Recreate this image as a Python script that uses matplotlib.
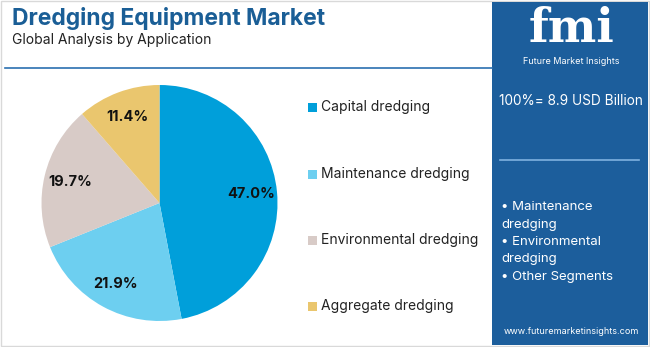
import matplotlib.pyplot as plt
from matplotlib.patches import Rectangle

plt.rcParams['font.family'] = ['Inter', 'DejaVu Sans']

# data
categories = ["Capital dredging", "Maintenance dredging",
              "Environmental dredging", "Aggregate dredging"]
shares = [47.0, 21.9, 19.7, 11.4]
colors = ["#009FDA", "#6DCFF0", "#D8CBC7", "#EAC66E"]
total_text = "100%= 8.9 USD Billion"
panel_items = ["• Maintenance", "dredging", "• Environmental", "dredging", "• Other Segments"]

W, H = 650, 347
fig = plt.figure(figsize=(W / 100, H / 100), dpi=100)
fig.patch.set_facecolor("white")

def fy(y):
    return 1 - y / H

def fx(x):
    return x / W

# outer border
fig.add_artist(Rectangle((0.001, 0.002), 0.997, 0.995, transform=fig.transFigure,
                         fill=False, edgecolor="#d9d9d9", lw=1))

# title block
fig.text(fx(12), fy(18), "Dredging Equipment Market", fontsize=16.5, fontweight="bold",
         color="#1A5E96", va="center", ha="left")
fig.text(fx(12), fy(40), "Global Analysis by Application", fontsize=10,
         color="#222222", va="center", ha="left")
fig.add_artist(plt.Line2D([fx(5), fx(492)], [fy(68), fy(68)], transform=fig.transFigure,
                          color="#2a6fb0", lw=1.2))

# pie
cx, cy, r = 159.5, 203, 118
ax = fig.add_axes([fx(cx - r), fy(cy + r), 2 * r / W, 2 * r / H])
wedges, texts, autotexts = ax.pie(shares, colors=colors, startangle=90, counterclock=False,
                                  autopct="%.1f%%", pctdistance=0.78,
                                  wedgeprops=dict(linewidth=0))
for t in autotexts:
    t.set_fontsize(10.5)
    t.set_fontweight("bold")
    t.set_color("#111111")
ax.set_xlim(-1, 1)
ax.set_ylim(-1, 1)
ax.set_aspect("equal")
ax.axis("off")

# legend
leg_y = [107, 174, 240, 306]
for name, c, y in zip(categories, colors, leg_y):
    fig.add_artist(Rectangle((fx(308), fy(y + 4.5)), 9 / W, 9 / H, transform=fig.transFigure,
                             facecolor=c, edgecolor="none"))
    fig.text(fx(321), fy(y), name, fontsize=10, color="#222222", va="center", ha="left")

# right panel
px0 = 492
fig.add_artist(Rectangle((fx(px0), fy(H - 2)), (W - 2 - px0) / W, (H - 4) / H,
                         transform=fig.transFigure, facecolor="#1C5E9C", edgecolor="none"))
pcx = (px0 + W) / 2
fig.text(fx(pcx), fy(29), "fmi", fontsize=33, fontweight="bold", family="DejaVu Serif",
         color="white", ha="center", va="center")
fig.text(fx(pcx), fy(61), "Future Market Insights", fontsize=6.5, color="white",
         ha="center", va="center")
fig.text(fx(pcx), fy(101), total_text, fontsize=9.8, color="white", ha="center", va="center")
fig.add_artist(plt.Line2D([fx(500), fx(639)], [fy(160), fy(160)], transform=fig.transFigure,
                          color="#7fb2e0", lw=1.2))
item_y = [207, 225, 242, 259, 277]
for txt, y in zip(panel_items, item_y):
    fig.text(fx(501), fy(y), txt, fontsize=9.5, color="white", ha="left", va="center")
fig.text(fx(pcx), fy(332), "www.futuremarketinsights.com", fontsize=6.5, color="white",
         ha="center", va="center")

fig.savefig("out.png", dpi=100)
